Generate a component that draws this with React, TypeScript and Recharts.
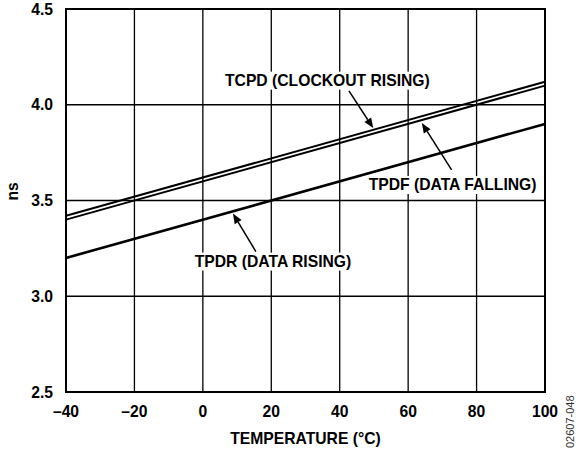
import React from "react";
import {
  LineChart,
  Line,
  XAxis,
  YAxis,
  CartesianGrid,
  ReferenceLine,
  ReferenceDot,
  ReferenceArea,
} from "recharts";

// temperature endpoints (°C)
const temps = [-40, 100];
// propagation delays in ns
const tcpd = [3.42, 4.12];
const tpdf = [3.4, 4.1];
const tpdr = [3.2, 3.9];

const xTicks = [-40, -20, 0, 20, 40, 60, 80, 100];
const yTicks = [2.5, 3.0, 3.5, 4.0, 4.5];

const data = temps.map((t, i) => ({ t, tcpd: tcpd[i], tpdf: tpdf[i], tpdr: tpdr[i] }));

// annotation text positions and arrows (data coords)
const notes = [
  { text: "TCPD (CLOCKOUT RISING)", x: 36.4, y: 4.126 },
  { text: "TPDF (DATA FALLING)", x: 73.0, y: 3.581 },
  { text: "TPDR (DATA RISING)", x: 20.5, y: 3.181 },
];
const arrows = [
  { from: { x: 42.7, y: 4.072 }, to: { x: 49.8, y: 3.878 } },
  { from: { x: 72.7, y: 3.66 }, to: { x: 64.0, y: 3.905 } },
  { from: { x: 15.5, y: 3.233 }, to: { x: 8.8, y: 3.432 } },
];

const FONT = "'Liberation Sans', Arial, Helvetica, sans-serif";
const FS = 15.7;
const fmtX = (v: number) => (v < 0 ? `\u2013${Math.abs(v)}` : `${v}`);

function Arrow(props: any) {
  const { x1, y1, x2, y2 } = props;
  const dx = x2 - x1;
  const dy = y2 - y1;
  const len = Math.sqrt(dx * dx + dy * dy) || 1;
  const ux = dx / len;
  const uy = dy / len;
  const hl = 10;
  const hw = 4;
  const bx = x2 - ux * hl;
  const by = y2 - uy * hl;
  const pts = `${x2},${y2} ${bx - uy * hw},${by + ux * hw} ${bx + uy * hw},${by - ux * hw}`;
  return (
    <g>
      <line x1={x1} y1={y1} x2={bx} y2={by} stroke="#000" strokeWidth={1.5} />
      <polygon points={pts} fill="#000" />
    </g>
  );
}

// text label with a white box behind it, like the original
function Note(props: any) {
  const { cx, cy, text } = props;
  const w = text.length * FS * 0.6;
  return (
    <g>
      <rect x={cx - w / 2} y={cy - 9} width={w} height={18} fill="#fff" />
      <text
        x={cx}
        y={cy}
        textAnchor="middle"
        dominantBaseline="central"
        fill="#000"
        fontSize={FS}
        fontWeight={700}
        fontFamily={FONT}
      >
        {text}
      </text>
    </g>
  );
}

export default function App() {
  return (
    <div style={{ position: "absolute", left: 0, top: 0, width: 584, height: 452, background: "#fff" }}>
      <LineChart
        width={584}
        height={452}
        data={data}
        margin={{ top: 9, right: 39, bottom: 0, left: 0 }}
        style={{ fontFamily: FONT }}
      >
        <CartesianGrid stroke="#000" strokeWidth={1.3} />
        <XAxis
          dataKey="t"
          type="number"
          domain={[-40, 100]}
          ticks={xTicks}
          tickFormatter={fmtX}
          tickLine={false}
          tickSize={0}
          tickMargin={14}
          axisLine={false}
          height={60}
          tick={{ fill: "#000", fontSize: FS, fontWeight: 700, fontFamily: FONT }}
          label={{
            value: "TEMPERATURE (°C)",
            position: "insideBottom",
            offset: 8,
            fill: "#000",
            fontSize: FS,
            fontWeight: 700,
            fontFamily: FONT,
          }}
        />
        <YAxis
          type="number"
          domain={[2.5, 4.5]}
          ticks={yTicks}
          tickFormatter={(v: number) => v.toFixed(1)}
          tickLine={false}
          tickSize={0}
          tickMargin={13}
          axisLine={false}
          width={66}
          tick={{ fill: "#000", fontSize: FS, fontWeight: 700, fontFamily: FONT }}
          label={{
            value: "ns",
            angle: -90,
            position: "insideLeft",
            offset: 12,
            fill: "#000",
            fontSize: FS,
            fontWeight: 700,
            fontFamily: FONT,
          }}
        />
        <ReferenceArea x1={-40} x2={100} y1={2.5} y2={4.5} fill="none" stroke="#000" strokeWidth={2} />
        {notes.map((n) => (
          <ReferenceDot
            key={n.text}
            x={n.x}
            y={n.y}
            r={1}
            shape={(p: any) => <Note cx={p.cx} cy={p.cy} text={n.text} />}
          />
        ))}
        <Line dataKey="tcpd" stroke="#000" strokeWidth={2} dot={false} isAnimationActive={false} />
        <Line dataKey="tpdf" stroke="#000" strokeWidth={2} dot={false} isAnimationActive={false} />
        <Line dataKey="tpdr" stroke="#000" strokeWidth={2.6} dot={false} isAnimationActive={false} />
        {arrows.map((a, i) => (
          <ReferenceLine key={`a${i}`} segment={[a.from, a.to]} shape={<Arrow />} ifOverflow="visible" />
        ))}
      </LineChart>
      <div
        style={{
          position: "absolute",
          left: 564,
          top: 448,
          transform: "rotate(-90deg)",
          transformOrigin: "0 0",
          fontFamily: FONT,
          fontSize: 11,
          color: "#333",
          whiteSpace: "nowrap",
        }}
      >
        02607-048
      </div>
    </div>
  );
}
